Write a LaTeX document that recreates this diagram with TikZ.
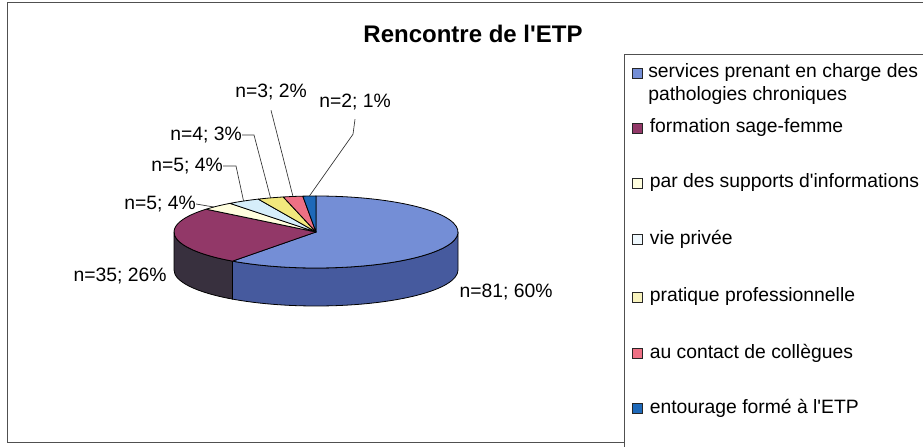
\documentclass[tikz,border=0pt]{standalone}
\usepackage{fontspec}
\setmainfont{Liberation Sans}
\usetikzlibrary{positioning}

\definecolor{serviceblue}{RGB}{116,142,214}
\definecolor{serviceside}{RGB}{70,90,158}
\definecolor{sageplum}{RGB}{146,56,104}
\definecolor{sageside}{RGB}{56,48,62}
\definecolor{supportivory}{RGB}{255,254,222}
\definecolor{priveecyan}{RGB}{214,238,250}
\definecolor{pratiqueyellow}{RGB}{242,232,125}
\definecolor{contactpink}{RGB}{238,112,132}
\definecolor{entourageblue}{RGB}{30,105,185}
\definecolor{framegray}{RGB}{80,80,80}

\begin{document}
\begin{tikzpicture}[x=0.75pt, y=0.75pt,
    rad/.style={x radius=142, y radius=36},
    slice/.style={draw=black, line width=0.6pt, line join=round},
    lbl/.style={font=\fontsize{14.5}{17}\selectfont, inner sep=0pt},
    leader/.style={draw=black!80, line width=0.5pt},
    key/.style={draw=black!85, line width=0.6pt, minimum size=7.5pt, inner sep=0pt},
    leg/.style={font=\fontsize{14.5}{17.25}\selectfont, inner sep=0pt, align=left}]
\useasboundingbox (0,0) rectangle (923,446);

% Frames
\draw[framegray, line width=0.75pt] (930,443) -- (7,443) -- (7,4) -- (624,4);
\draw[framegray, line width=0.75pt] (624,-5) -- (624,391) -- (930,391);

% Title
\node[font=\fontsize{18}{20}\selectfont\bfseries] (title) at (473,412) {Rencontre de l\textquotesingle ETP};

% Pie centre
\coordinate (C) at (316,214);

% Sides
\filldraw[slice, fill=serviceside] (C) ++(-126:142 and 36) arc[rad, start angle=-126, end angle=0]
    -- ++(0,-38) arc[rad, start angle=0, end angle=-126] -- cycle;
\filldraw[slice, fill=sageside] (C) ++(180:142 and 36) arc[rad, start angle=180, end angle=234]
    -- ++(0,-38) arc[rad, start angle=234, end angle=180] -- cycle;

% Top slices
\filldraw[slice, fill=serviceblue] (C) -- ++(-126:142 and 36) arc[rad, start angle=-126, end angle=90] -- cycle;
\filldraw[slice, fill=sageplum] (C) -- ++(140.67:142 and 36) arc[rad, start angle=140.67, end angle=234] -- cycle;
\filldraw[slice, fill=supportivory] (C) -- ++(127.33:142 and 36) arc[rad, start angle=127.33, end angle=140.67] -- cycle;
\filldraw[slice, fill=priveecyan] (C) -- ++(114:142 and 36) arc[rad, start angle=114, end angle=127.33] -- cycle;
\filldraw[slice, fill=pratiqueyellow] (C) -- ++(103.33:142 and 36) arc[rad, start angle=103.33, end angle=114] -- cycle;
\filldraw[slice, fill=contactpink] (C) -- ++(95.33:142 and 36) arc[rad, start angle=95.33, end angle=103.33] -- cycle;
\filldraw[slice, fill=entourageblue] (C) -- ++(90:142 and 36) arc[rad, start angle=90, end angle=95.33] -- cycle;

% Slice edge points for the leaders
\path (C) ++(136:142 and 36) coordinate (e5a);
\path (C) ++(120.67:142 and 36) coordinate (e5b);
\path (C) ++(108.67:142 and 36) coordinate (e4);
\path (C) ++(99.33:142 and 36) coordinate (e3);
\path (C) ++(92.67:142 and 36) coordinate (e2);

% Data labels
\node[lbl] (l81) at (506,154) {n=81; 60\%};
\node[lbl] (l35) at (120,170) {n=35; 26\%};
\node[lbl] (l5a) at (160,242) {n=5; 4\%};
\node[lbl] (l5b) at (187,280) {n=5; 4\%};
\node[lbl] (l4) at (206,311) {n=4; 3\%};
\node[lbl] (l3) at (271,354) {n=3; 2\%};
\node[lbl] (l2) at (355,344) {n=2; 1\%};

% Leaders
\draw[leader] (l5a.east) -- (e5a);
\draw[leader] (l5b.east) -- ++(13,0) -- (e5b);
\draw[leader] (l4.east) -- ++(12,0) -- (e4);
\draw[leader] (l3.south) ++(0,-10) -- (e3);
\draw[leader] (l2.south) ++(0,-9) -- ++(-2,-15) -- (e2);

% Legend
\node[key, fill=serviceblue] (k1) at (637.5,373) {};
\node[leg, anchor=north west] (t1) at (648,383) {services prenant en charge des\\pathologies chroniques};
\node[key, fill=sageplum] (k2) at (637.5,318) {};
\node[leg, right=5pt of k2] (t2) {formation sage-femme};
\node[key, fill=supportivory] (k3) at (637.5,263) {};
\node[leg, right=5pt of k3] (t3) {par des supports d\textquotesingle informations};
\node[key, fill=priveecyan!40] (k4) at (637.5,207) {};
\node[leg, right=5pt of k4] (t4) {vie privée};
\node[key, fill=pratiqueyellow!50] (k5) at (637.5,149) {};
\node[leg, right=5pt of k5] (t5) {pratique professionnelle};
\node[key, fill=contactpink] (k6) at (637.5,93) {};
\node[leg, right=5pt of k6] (t6) {au contact de collègues};
\node[key, fill=entourageblue] (k7) at (637.5,38) {};
\node[leg, right=5pt of k7] (t7) {entourage formé à l\textquotesingle ETP};
\end{tikzpicture}
\end{document}
